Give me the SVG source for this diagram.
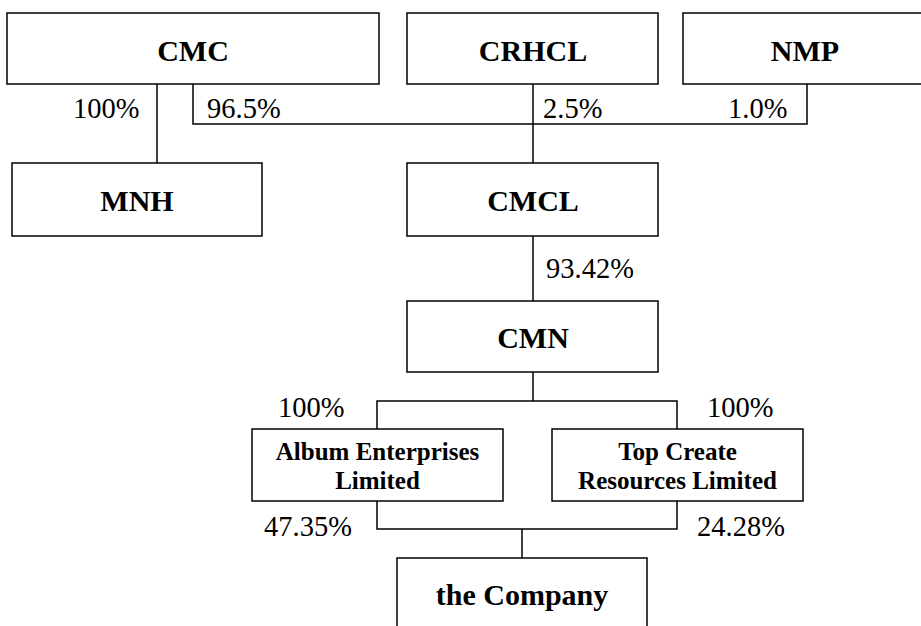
<svg xmlns="http://www.w3.org/2000/svg" width="921" height="626" viewBox="0 0 921 626">
<style>
.box{fill:#fff;stroke:#000;stroke-width:1.5}
.line{fill:none;stroke:#000;stroke-width:1.5}
.t{font-family:"Liberation Serif","Times New Roman",serif;font-weight:bold;font-size:30px;text-anchor:middle;fill:#000}
.s{font-family:"Liberation Serif","Times New Roman",serif;font-weight:bold;font-size:25px;text-anchor:middle;fill:#000}
.p{font-family:"Liberation Serif","Times New Roman",serif;font-size:28.5px;fill:#000}
</style>
<rect width="921" height="626" fill="#fff"/>
<g id="connectors">
<path class="line" d="M157 84V163"/>
<path class="line" d="M193 84V124H807V84"/>
<path class="line" d="M533 84V163"/>
<path class="line" d="M533 236V301"/>
<path class="line" d="M533 372V401"/>
<path class="line" d="M377 429V401H677V429"/>
<path class="line" d="M377 501V529H677V501"/>
<path class="line" d="M522 529V558"/>
</g>
<g id="labels">
<text class="p" x="73" y="118">100%</text>
<text class="p" x="207" y="118">96.5%</text>
<text class="p" x="543" y="118">2.5%</text>
<text class="p" x="728" y="118">1.0%</text>
<text class="p" x="546" y="278">93.42%</text>
<text class="p" x="278" y="417">100%</text>
<text class="p" x="707" y="417">100%</text>
<text class="p" x="264" y="536">47.35%</text>
<text class="p" x="697" y="536">24.28%</text>
</g>
<g id="CMC"><rect class="box" x="7" y="13" width="372" height="71"/><text class="t" x="193" y="61">CMC</text></g>
<g id="CRHCL"><rect class="box" x="407" y="13" width="251" height="71"/><text class="t" x="533" y="61">CRHCL</text></g>
<g id="NMP"><rect class="box" x="683" y="13" width="244" height="71"/><text class="t" x="805" y="61">NMP</text></g>
<g id="MNH"><rect class="box" x="12" y="163" width="250" height="73"/><text class="t" x="137" y="211">MNH</text></g>
<g id="CMCL"><rect class="box" x="407" y="163" width="251" height="73"/><text class="t" x="533" y="211">CMCL</text></g>
<g id="CMN"><rect class="box" x="407" y="301" width="251" height="71"/><text class="t" x="533" y="348">CMN</text></g>
<g id="Album"><rect class="box" x="252" y="429" width="251" height="72"/><text class="s" x="377.5" y="460">Album Enterprises</text><text class="s" x="377.5" y="489">Limited</text></g>
<g id="TopCreate"><rect class="box" x="552" y="429" width="251" height="72"/><text class="s" x="677.5" y="460">Top Create</text><text class="s" x="677.5" y="489">Resources Limited</text></g>
<g id="Company"><rect class="box" x="397" y="558" width="250" height="80"/><text class="t" x="522" y="605">the Company</text></g>
</svg>
